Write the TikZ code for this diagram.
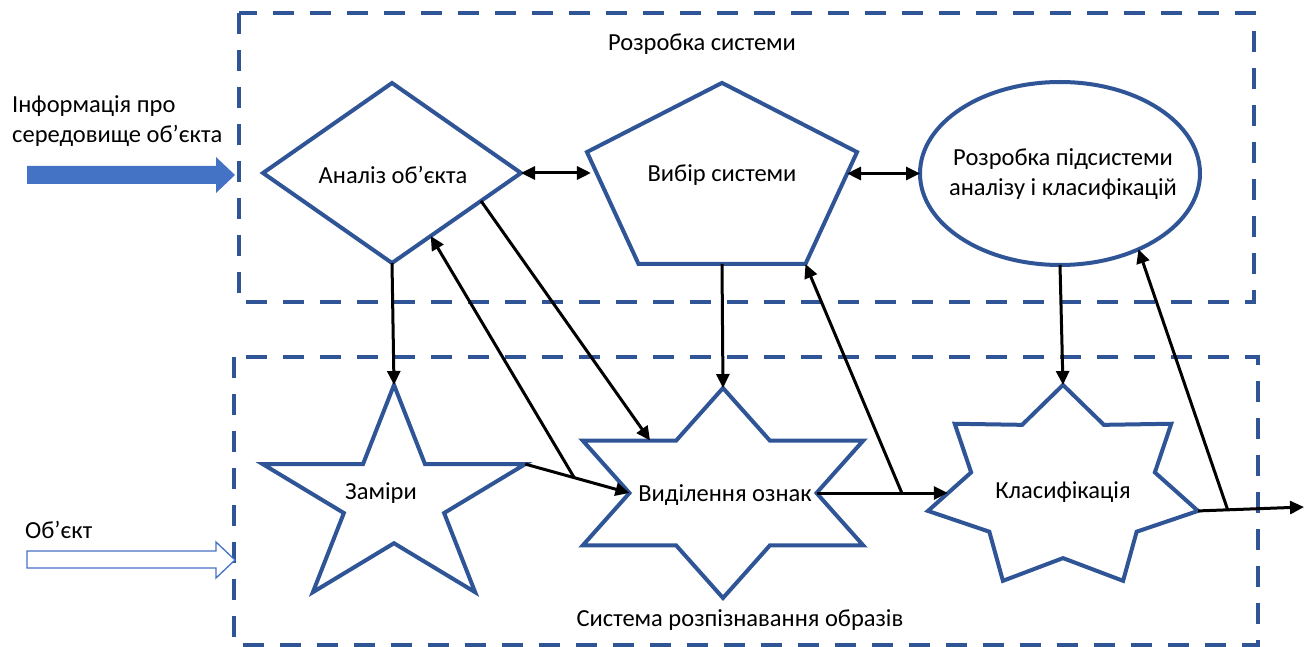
\documentclass[tikz,border=0pt]{standalone}
\usepackage{fontspec}
\setmainfont{Carlito}
\usetikzlibrary{shapes.geometric,arrows.meta,calc}
\definecolor{frameblue}{HTML}{2F5597}
\definecolor{blockblue}{HTML}{4472C4}

\begin{document}
\begin{tikzpicture}[x=1pt,y=-1pt,
  font=\fontsize{24.5pt}{29.5pt}\selectfont,
  box/.style={draw=frameblue, line width=4pt, dash pattern=on 21pt off 16pt},
  shp/.style={draw=frameblue, line width=4pt, fill=white, inner sep=0pt, outer sep=0pt},
  lbl/.style={inner sep=0pt, align=center},
  link/.style={line width=3pt, -{Triangle[length=14pt,width=13pt]}},
  dlink/.style={line width=3pt, {Triangle[length=14pt,width=13pt]}-{Triangle[length=14pt,width=13pt]}}
]
\useasboundingbox (0,0) rectangle (1310,647);

% dashed frames of the two subsystems
\draw[box] (239,13) rectangle (1254,302);
\draw[box] (234,357) rectangle (1258,644.5);

% upper row: analysis, choice, development
\node[shp, diamond, minimum width=258pt, minimum height=180pt] (analiz) at (392,173) {};
\begin{scope}[shift={(722,183)}, yscale=0.705]
  \node[shp, regular polygon, regular polygon sides=5, minimum size=284pt, transform shape] (vybir) at (0,0) {};
\end{scope}
\node[shp, ellipse, minimum width=280pt, minimum height=183pt] (rozrobka) at (1060,173.5) {};

% lower row: measuring, features, classification
\begin{scope}[shift={(394,499.5)}, yscale=0.83]
  \node[shp, star, star points=5, star point ratio=2.618, minimum size=276pt, transform shape] (zamiry) at (0,0) {};
\end{scope}
\begin{scope}[shift={(723,493)}, yscale=0.648]
  \node[shp, star, star points=6, star point ratio=1.732, minimum size=324pt, transform shape] (vydil) at (0,0) {};
\end{scope}
\begin{scope}[shift={(1063,488)}, yscale=0.744]
  \node[shp, star, star points=7, star point ratio=1.47, minimum size=277pt, transform shape] (klas) at (0,0) {};
\end{scope}

% texts
\node[lbl] (l-analiz) at (393,175) {Аналіз об’єкта};
\node[lbl] (l-vybir) at (722,175) {Вибір системи};
\node[lbl] (l-rozr) at (1063,174) {Розробка підсистеми\\аналізу і класифікацій};
\node[lbl] (l-zam) at (381,493) {Заміри};
\node[lbl] (l-vyd) at (725,495) {Виділення ознак};
\node[lbl] (l-klas) at (1063,492) {Класифікація};
\node[lbl] (l-top) at (702,44) {Розробка системи};
\node[lbl] (l-bot) at (740,620) {Система розпізнавання образів};
\node[lbl, align=left, anchor=west] (l-info) at (12,121) {Інформація про\\середовище об’єкта};
\node[lbl, anchor=west] (l-obj) at (25,530) {Об’єкт};

% block arrows on the left
\fill[blockblue] (27,166) -- (216,166) -- (216,157) -- (235,175) -- (216,193) -- (216,184) -- (27,184) -- cycle;
\draw[draw=blockblue, line width=1.3pt, fill=white] (27,551) -- (216,551) -- (216,542) -- (235,560) -- (216,578) -- (216,568) -- (27,568) -- cycle;

% vertical links between the rows
\draw[link] (analiz.south) -- (zamiry.outer point 1);
\draw[link] (vybir.side 3) -- (vydil.outer point 1);
\draw[link] (rozrobka.south) -- (klas.outer point 1);

% two-way links in the upper row
\draw[dlink] (analiz.east) -- ($(analiz.east -| vybir.corner 2)+(4,0)$);
\draw[dlink] ($(rozrobka.west -| vybir.corner 5)+(-10,0)$) -- (rozrobka.west);

% attachment points
\coordinate (a-out) at ($(analiz.east)!0.31!(analiz.south)$);
\coordinate (a-in) at ($(analiz.east)!0.70!(analiz.south)$);
\coordinate (v-in) at ($(vydil.outer point 2)!0.72!(vydil.inner point 1)$);
\coordinate (k-in) at ($(klas.inner point 2)!0.54!(klas.outer point 3)$);
\coordinate (exit) at (1304,507);

% analysis to features
\draw[link] (a-out) -- (v-in);

% measuring to features, with feedback to analysis
\draw[link] (zamiry.outer point 5) -- (vydil.inner point 2);
\coordinate (j1) at ($(zamiry.outer point 5)!0.47!(vydil.inner point 2)$);
\draw[link] (j1) -- (a-in);

% features to classification, with feedback to system choice
\draw[link] (vydil.inner point 5) -- (vydil.inner point 5 -| k-in);
\coordinate (j2) at ($(vydil.inner point 5)!0.65!(k-in)$);
\draw[link] (j2) -- (vybir.corner 4);

% classification output, with feedback to development
\draw[link] (klas.outer point 6) -- (exit);
\coordinate (j3) at ($(klas.outer point 6)!0.28!(exit)$);
\draw[link] (j3) -- (rozrobka.-44);
\end{tikzpicture}
\end{document}
